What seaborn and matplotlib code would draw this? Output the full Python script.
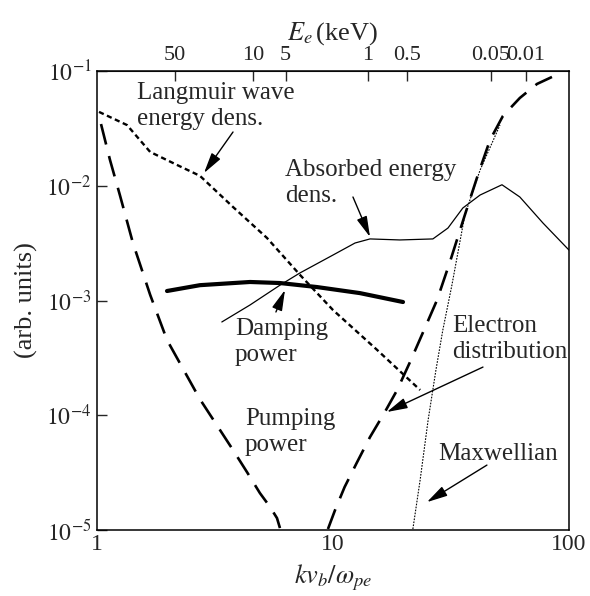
import numpy as np
import pandas as pd
import matplotlib
matplotlib.use("Agg")
import matplotlib.pyplot as plt
import seaborn as sns

# --- curve data (x = k v_b / w_pe) ---
langmuir_x = [1.02, 1.34, 1.68, 2.18, 2.73, 3.77, 5.25, 7.25, 10.0, 15.4, 23.4]
langmuir_y = [4.40e-2, 3.38e-2, 1.97e-2, 1.52e-2, 1.22e-2, 6.53e-3, 3.51e-3,
              1.67e-3, 8.26e-4, 3.70e-4, 1.66e-4]

pumping_x = [1.04, 1.135, 1.25, 1.42, 1.68, 1.98, 2.73, 3.385, 3.77, 4.32,
             4.90, 5.41, 5.79, 5.96]
pumping_y = [3.45e-2, 1.68e-2, 8.3e-3, 3.17e-3, 1.12e-3, 4.53e-4, 1.38e-4,
             7.0e-5, 4.98e-5, 3.20e-5, 2.10e-5, 1.59e-5, 1.27e-5, 1.04e-5]

electron_x = [9.52, 10.2, 11.2, 12.6, 14.35, 16.6, 18.7, 21.2, 24.0, 27.6,
              31.3, 36.2, 41.1, 46.3, 52.5, 61.9, 73.2, 84.7]
electron_y = [1.02e-5, 1.49e-5, 2.37e-5, 3.84e-5, 6.46e-5, 1.07e-4, 1.66e-4,
              2.91e-4, 5.21e-4, 1.01e-3, 2.17e-3, 5.56e-3, 1.24e-2, 2.51e-2,
              4.06e-2, 5.82e-2, 7.71e-2, 8.87e-2]

maxwell_x = [21.8, 23.4, 25.3, 27.3, 29.2, 31.9, 36.2, 42.0, 51.0]
maxwell_y = [1.02e-5, 2.73e-5, 9.1e-5, 2.48e-4, 5.53e-4, 1.36e-3, 5.56e-3,
             1.37e-2, 3.38e-2]

absorbed_x = [3.38, 4.45, 5.96, 7.25, 10.0, 12.4, 14.35, 19.2, 26.5, 30.7,
              35.5, 42.0, 52.0, 61.9, 77.6, 100.0]
absorbed_y = [6.50e-4, 9.14e-4, 1.36e-3, 1.74e-3, 2.49e-3, 3.17e-3, 3.44e-3,
              3.37e-3, 3.44e-3, 4.28e-3, 6.40e-3, 8.30e-3, 1.02e-2, 7.98e-3,
              4.73e-3, 2.75e-3]

damping_x = [1.98, 2.73, 4.45, 5.96, 8.55, 13.0, 19.8]
damping_y = [1.21e-3, 1.36e-3, 1.45e-3, 1.42e-3, 1.31e-3, 1.16e-3, 9.70e-4]

# top axis: electron energy (keV)
energy_labels = ["50", "10", "5", "1", "0.5", "0.05", "0.01"]
energy_pos = [2.14, 4.57, 6.30, 14.07, 20.5, 46.6, 65.7]

y_ticks = [1e-5, 1e-4, 1e-3, 1e-2, 1e-1]
y_ticklabels = [r"$10^{-5}$", r"$10^{-4}$", r"$10^{-3}$", r"$10^{-2}$", r"$10^{-1}$"]
x_ticks = [1, 10, 100]
x_ticklabels = ["1", "10", "100"]

sns.set_style("ticks")
plt.rcParams["font.family"] = ["Liberation Serif", "DejaVu Serif"]
plt.rcParams["mathtext.fontset"] = "stix"

fig = plt.figure(figsize=(5.9, 5.96), dpi=100)
ax = fig.add_axes([0.1644, 0.1107, 0.8000, 0.7702])
ax.set_xscale("log")
ax.set_yscale("log")

black = "black"
sns.lineplot(x=langmuir_x, y=langmuir_y, ax=ax, color=black, lw=1.7,
             linestyle=(0, (2.2, 1.5)), sort=False)
sns.lineplot(x=pumping_x, y=pumping_y, ax=ax, color=black, lw=1.9,
             linestyle=(0, (8, 4.5)), sort=False)
sns.lineplot(x=electron_x, y=electron_y, ax=ax, color=black, lw=1.9,
             linestyle=(0, (8, 4.5)), sort=False)
sns.lineplot(x=maxwell_x, y=maxwell_y, ax=ax, color=black, lw=0.8,
             linestyle=(0, (1.5, 1.2)), sort=False)
sns.lineplot(x=absorbed_x, y=absorbed_y, ax=ax, color=black, lw=0.9, sort=False)
sns.lineplot(x=damping_x, y=damping_y, ax=ax, color=black, lw=3.0, sort=False)

ax.set_xlim(1, 100)
ax.set_ylim(1e-5, 1e-1)
ax.minorticks_off()
ax.set_xticks(x_ticks)
ax.set_xticklabels(x_ticklabels)
ax.set_yticks(y_ticks)
ax.set_yticklabels(y_ticklabels)
ax.tick_params(axis="y", direction="in", length=7, width=1, labelsize=17, pad=4,
               right=False)
ax.tick_params(axis="x", direction="in", length=0, labelsize=17, pad=3)
for s in ax.spines.values():
    s.set_linewidth(1.1)
    s.set_color(black)

ax.set_xlabel(r"$kv_b/\omega_{pe}$", fontsize=19, labelpad=5)
ax.set_ylabel("(arb. units)", fontsize=19, labelpad=6)

top = ax.secondary_xaxis("top")
top.set_xticks(energy_pos)
top.set_xticklabels(energy_labels)
top.minorticks_off()
top.tick_params(direction="in", length=7, width=1, labelsize=16, pad=4)
top.set_xlabel(r"$E_e\,$(keV)", fontsize=19, labelpad=5)

# annotations (y = baseline of the last line)
fs = 18
ls = 1.25
ax.text(1.477, 0.0338, "Langmuir wave\nenergy dens.", fontsize=fs,
        va="baseline", linespacing=ls)
ax.text(6.26, 7.22e-3, "Absorbed energy\ndens.", fontsize=fs,
        va="baseline", linespacing=ls)
ax.text(3.84, 2.97e-4, "Damping\npower", fontsize=fs, va="baseline",
        linespacing=ls)
ax.text(4.24, 4.88e-5, "Pumping\npower", fontsize=fs, va="baseline",
        linespacing=ls)
ax.text(31.9, 3.155e-4, "Electron\ndistribution", fontsize=fs,
        va="baseline", linespacing=ls)
ax.text(27.9, 4.1e-5, "Maxwellian", fontsize=fs, va="baseline")

arrow = dict(arrowstyle="-|>,head_length=0.7,head_width=0.18", color=black,
             lw=1.0, mutation_scale=18, shrinkA=0, shrinkB=0)
ax.annotate("", xy=(2.84, 0.0129), xytext=(3.77, 0.0294), arrowprops=arrow)
ax.annotate("", xy=(14.35, 3.58e-3), xytext=(12.15, 7.98e-3), arrowprops=arrow)
ax.annotate("", xy=(6.26, 1.235e-3), xytext=(5.73, 7.94e-4), arrowprops=arrow)
ax.annotate("", xy=(16.9, 1.067e-4), xytext=(43.2, 2.63e-4), arrowprops=arrow)
ax.annotate("", xy=(25.0, 1.75e-5), xytext=(44.9, 3.68e-5), arrowprops=arrow)

fig.savefig("out.png", dpi=100)
